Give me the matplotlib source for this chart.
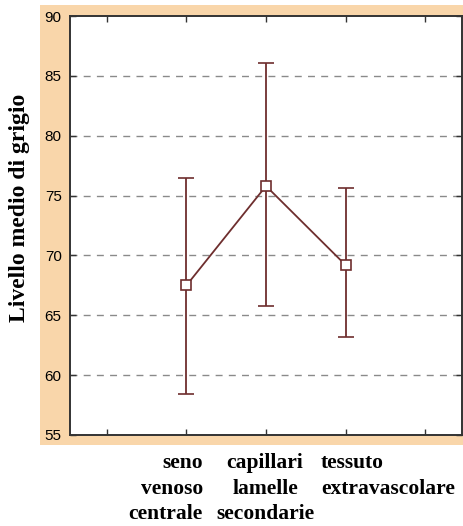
import matplotlib
matplotlib.use("Agg")
import matplotlib.pyplot as plt
from matplotlib.patches import Rectangle

# group means with lower / upper ends of the error bars
groups = ["seno\nvenoso\ncentrale", "capillari\nlamelle\nsecondarie", "tessuto\nextravascolare"]
group_pos = [2, 3, 4]
means = [67.5, 75.8, 69.2]
lower = [58.4, 65.8, 63.2]
upper = [76.5, 86.1, 75.6]

yticks = [55, 60, 65, 70, 75, 80, 85, 90]
xticks = [1, 2, 3, 4, 5]

W, H = 464, 526
fig = plt.figure(figsize=(W / 100, H / 100), dpi=100)

# peach panel behind the axes
fig.patches.append(Rectangle((40 / W, 1 - 445 / H), 424 / W, 440 / H,
                             transform=fig.transFigure, facecolor="#f9d6aa",
                             edgecolor="none", zorder=-5))

ax = fig.add_axes([70 / W, 1 - 435 / H, 392 / W, 419 / H])
ax.set_facecolor("white")

brown = "#6e2e2e"
err_lo = [m - l for m, l in zip(means, lower)]
err_hi = [u - m for m, u in zip(means, upper)]
ax.errorbar(group_pos, means, yerr=[err_lo, err_hi], color=brown, linewidth=1.3,
            elinewidth=1.3, capsize=6, capthick=1.3, marker="s", markersize=7.5,
            markerfacecolor="white", markeredgecolor=brown, markeredgewidth=1.2,
            zorder=3)

for y in yticks[1:-1]:
    ax.axhline(y, color="#8a8a8a", linewidth=1.0, dashes=(5, 4.5), zorder=1)

ax.set_xlim(0.535, 5.465)
ax.set_ylim(55, 90)
ax.set_yticks(yticks)
ax.set_xticks(xticks)
ax.set_xticklabels([])
ax.tick_params(direction="in", length=4, width=1.0, color="#333333",
               top=True, right=True, labelsize=11, pad=6)
for lbl in ax.get_yticklabels():
    lbl.set_family(["Liberation Sans Narrow", "Liberation Sans"])
for sp in ax.spines.values():
    sp.set_color("#333333")
    sp.set_linewidth(1.4)

fig.text(20 / W, 1 - 208 / H, "Livello medio di grigio", rotation=90,
         ha="center", va="center", fontsize=17, fontweight="bold",
         family="Liberation Serif")

# category names under the panel
label_y = 1 - 453 / H
aligns = ["right", "center", "left"]
xs = [203, 265, 321]
for text, ha, x in zip(groups, aligns, xs):
    fig.text(x / W, label_y, text, ha=ha, va="top", multialignment=ha,
             fontsize=15.5, fontweight="bold", family="Liberation Serif",
             linespacing=1.38)

fig.savefig("out.png", dpi=100)
